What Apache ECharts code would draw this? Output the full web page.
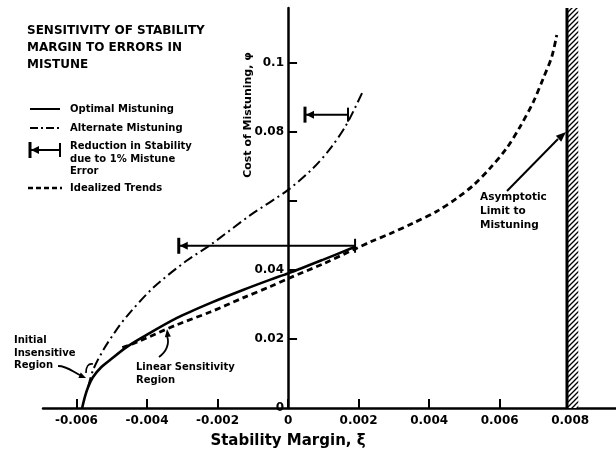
<!DOCTYPE html>
<html><head><meta charset="utf-8">
<script src="https://cdn.jsdelivr.net/npm/echarts@6/dist/echarts.min.js"></script>
<style>html,body{margin:0;padding:0;background:#fff}#c{width:616px;height:451px}</style>
</head><body><div id="c"></div>
<script>
// ---- data ----
const xTicks = [-0.006, -0.004, -0.002, 0, 0.002, 0.004, 0.006, 0.008];
const yTicks = [0.02, 0.04, 0.06, 0.08, 0.1];
const yLabels = [0, 0.02, 0.04, 0.08, 0.1];

const optX = [-0.00584, -0.00576, -0.00567, -0.00553, -0.0053, -0.00505, -0.0046, -0.00411, -0.00315, -0.00221, -0.00128, -0.0005, 0, 0.001, 0.0019];
const optY = [0, 0.0033, 0.0061, 0.009, 0.0118, 0.0139, 0.0175, 0.0206, 0.0261, 0.0304, 0.0342, 0.0372, 0.039, 0.043, 0.0467];

const altX = [-0.00567, -0.00553, -0.00524, -0.00491, -0.00458, -0.00383, -0.0029, -0.00221, -0.00108, 0, 0.0007, 0.0012, 0.00166, 0.0021];
const altY = [0.0061, 0.011, 0.0168, 0.022, 0.0265, 0.0348, 0.0425, 0.0472, 0.0558, 0.0632, 0.0694, 0.0752, 0.0822, 0.0913];

const idealX = [-0.0047, -0.00428, -0.00316, -0.00221, -0.00128, -0.0005, 0, 0.001, 0.0019, 0.00233, 0.00289, 0.00355, 0.00422, 0.00479, 0.00526, 0.00573, 0.0062, 0.00658, 0.00696, 0.00724, 0.00748, 0.00762];
const idealY = [0.0175, 0.0191, 0.0241, 0.0278, 0.0319, 0.0352, 0.0375, 0.0418, 0.0461, 0.0481, 0.0505, 0.0536, 0.057, 0.0608, 0.0646, 0.0695, 0.0753, 0.0815, 0.0888, 0.0956, 0.1018, 0.1081];

// reduction in stability bars: [left, right, level]
const barLeft = [-0.0031, 0.00048];
const barRight = [0.0019, 0.0017];
const barLevel = [0.047, 0.085];

const wallX = [0.00791, 0.00823];

const X_MIN = -0.00695, X_MAX = 0.0093, Y_MIN = 0, Y_MAX = 0.1159;
const FONT = '"DejaVu Sans", "Liberation Sans", sans-serif';

const zip = (a, b) => a.map((v, i) => [v, b[i]]);

// hatch pattern
const pc = document.createElement('canvas');
pc.width = 5; pc.height = 5;
const g = pc.getContext('2d');
g.fillStyle = '#fff'; g.fillRect(0, 0, 5, 5);
g.strokeStyle = '#000'; g.lineWidth = 1.3;
g.beginPath();
g.moveTo(-1, 6); g.lineTo(6, -1);
g.moveTo(-3.5, 3.5); g.lineTo(3.5, -3.5);
g.moveTo(1.5, 8.5); g.lineTo(8.5, 1.5);
g.stroke();

function arrowHead(tipX, tipY, fromX, fromY, len, half) {
  const a = Math.atan2(tipY - fromY, tipX - fromX);
  const bx = tipX - len * Math.cos(a), by = tipY - len * Math.sin(a);
  const px = -Math.sin(a) * half, py = Math.cos(a) * half;
  return { type: 'polygon', shape: { points: [[tipX, tipY], [bx + px, by + py], [bx - px, by - py]] }, style: { fill: '#000' } };
}
function txt(x, y, text, size, extra) {
  return { type: 'text', x: x, y: y, style: Object.assign({ text: text, font: 'bold ' + size + 'px ' + FONT, fill: '#000', verticalAlign: 'middle', align: 'left' }, extra || {}) };
}

const chart = echarts.init(document.getElementById('c'), null, { renderer: 'canvas' });

const option = {
  animation: false,
  backgroundColor: '#fff',
  grid: { left: 43, right: 0, top: 8, bottom: 43, containLabel: false, outerBoundsMode: 'none' },
  xAxis: {
    type: 'value', min: X_MIN, max: X_MAX,
    splitLine: { show: false },
    axisLine: { show: true, onZero: false, lineStyle: { color: '#000', width: 2.5 } },
    axisTick: { show: true, inside: true, length: 9, customValues: xTicks, lineStyle: { color: '#000', width: 2 } },
    axisLabel: {
      customValues: xTicks, margin: 7, color: '#000', fontWeight: 'bold', fontSize: 12, fontFamily: FONT,
      formatter: v => (Math.abs(v) < 1e-12 ? '0' : Number(v).toFixed(3))
    }
  },
  yAxis: {
    type: 'value', min: Y_MIN, max: Y_MAX,
    splitLine: { show: false },
    axisLine: { show: true, onZero: true, lineStyle: { color: '#000', width: 2.5 } },
    axisTick: { show: true, inside: true, length: 9, customValues: yTicks, lineStyle: { color: '#000', width: 2 } },
    axisLabel: {
      customValues: yLabels, margin: -241, color: '#000', fontWeight: 'bold', fontSize: 12, fontFamily: FONT,
      formatter: v => (Math.abs(v) < 1e-12 ? '0' : String(Number(v.toFixed(3))))
    }
  },
  series: [
    {
      name: 'Optimal Mistuning', type: 'line', data: zip(optX, optY), smooth: 0.3, showSymbol: false,
      lineStyle: { color: '#000', width: 2.6 }, z: 3
    },
    {
      name: 'Alternate Mistuning', type: 'line', data: zip(altX, altY), smooth: 0.3, showSymbol: false,
      lineStyle: { color: '#000', width: 2, type: [10, 4, 2, 4] }, z: 3
    },
    {
      name: 'Idealized Trends', type: 'line', data: zip(idealX, idealY), smooth: 0.3, showSymbol: false,
      lineStyle: { color: '#000', width: 2.8, type: [6, 4] }, z: 2
    },
    {
      name: 'Reduction in Stability', type: 'custom', z: 4,
      data: barLeft.map((l, i) => [l, barRight[i], barLevel[i]]),
      renderItem: function (params, api) {
        const p1 = api.coord([api.value(0), api.value(2)]);
        const p2 = api.coord([api.value(1), api.value(2)]);
        const y = p1[1];
        return {
          type: 'group', children: [
            { type: 'line', shape: { x1: p1[0], y1: y, x2: p2[0], y2: y }, style: { stroke: '#000', lineWidth: 2 } },
            { type: 'line', shape: { x1: p1[0], y1: y - 8, x2: p1[0], y2: y + 8 }, style: { stroke: '#000', lineWidth: 3 } },
            { type: 'line', shape: { x1: p2[0], y1: y - 7, x2: p2[0], y2: y + 7 }, style: { stroke: '#000', lineWidth: 2 } },
            { type: 'polygon', shape: { points: [[p1[0] + 1, y], [p1[0] + 9, y - 4], [p1[0] + 9, y + 4]] }, style: { fill: '#000' } }
          ]
        };
      }
    },
    {
      name: 'Asymptotic Limit', type: 'custom', z: 5, clip: false,
      data: [[wallX[0], wallX[1]]],
      renderItem: function (params, api) {
        const a = api.coord([api.value(0), Y_MAX]);
        const b = api.coord([api.value(1), Y_MIN]);
        return {
          type: 'group', children: [
            { type: 'rect', shape: { x: a[0], y: a[1], width: b[0] - a[0], height: b[1] - a[1] }, style: { fill: { image: pc, repeat: 'repeat' } } },
            { type: 'line', shape: { x1: a[0], y1: a[1], x2: a[0], y2: b[1] }, style: { stroke: '#000', lineWidth: 3 } }
          ]
        };
      }
    }
  ],
  graphic: [
    // title
    txt(27, 31, 'SENSITIVITY OF STABILITY', 12),
    txt(27, 48, 'MARGIN TO ERRORS IN', 12),
    txt(27, 65, 'MISTUNE', 12),
    // legend
    { type: 'line', shape: { x1: 30, y1: 109, x2: 60, y2: 109 }, style: { stroke: '#000', lineWidth: 2 } },
    txt(70, 109, 'Optimal Mistuning', 10),
    { type: 'line', shape: { x1: 30, y1: 128, x2: 60, y2: 128 }, style: { stroke: '#000', lineWidth: 2, lineDash: [8, 3, 2, 3] } },
    txt(70, 128, 'Alternate Mistuning', 10),
    { type: 'line', shape: { x1: 30, y1: 150, x2: 60, y2: 150 }, style: { stroke: '#000', lineWidth: 2 } },
    { type: 'line', shape: { x1: 30, y1: 142, x2: 30, y2: 158 }, style: { stroke: '#000', lineWidth: 3 } },
    { type: 'line', shape: { x1: 60, y1: 143, x2: 60, y2: 157 }, style: { stroke: '#000', lineWidth: 2 } },
    { type: 'polygon', shape: { points: [[31, 150], [39, 146], [39, 154]] }, style: { fill: '#000' } },
    txt(70, 146, 'Reduction in Stability', 10),
    txt(70, 159, 'due to 1% Mistune', 10),
    txt(70, 171, 'Error', 10),
    { type: 'line', shape: { x1: 28, y1: 188, x2: 62, y2: 188 }, style: { stroke: '#000', lineWidth: 2.5, lineDash: [5, 3] } },
    txt(70, 188, 'Idealized Trends', 10),
    // axis names
    txt(288, 441, 'Stability Margin, ξ', 15, { align: 'center' }),
    Object.assign(txt(248, 115, 'Cost of Mistuning, φ', 11, { align: 'center' }), { rotation: Math.PI / 2 }),
    // annotations
    txt(14, 340, 'Initial', 10),
    txt(14, 353, 'Insensitive', 10),
    txt(14, 365, 'Region', 10),
    { type: 'bezierCurve', shape: { x1: 58, y1: 366, x2: 82, y2: 376, cpx1: 68, cpy1: 366, cpx2: 74, cpy2: 373 }, style: { stroke: '#000', lineWidth: 1.8, fill: null } },
    arrowHead(86, 378, 79, 375, 7, 3),
    { type: 'bezierCurve', shape: { x1: 86, y1: 373, x2: 93, y2: 364, cpx1: 86, cpy1: 367, cpx2: 88, cpy2: 363 }, style: { stroke: '#000', lineWidth: 1.6, fill: null } },
    txt(136, 367, 'Linear Sensitivity', 10),
    txt(136, 380, 'Region', 10),
    { type: 'bezierCurve', shape: { x1: 159, y1: 357, x2: 167, y2: 336, cpx1: 166, cpy1: 352, cpx2: 170, cpy2: 344 }, style: { stroke: '#000', lineWidth: 1.8, fill: null } },
    arrowHead(167, 329, 168, 338, 8, 3),
    txt(480, 197, 'Asymptotic', 10.5),
    txt(480, 211, 'Limit to', 10.5),
    txt(480, 225, 'Mistuning', 10.5),
    { type: 'line', shape: { x1: 507, y1: 191, x2: 558, y2: 139 }, style: { stroke: '#000', lineWidth: 2 } },
    arrowHead(566, 132, 557, 140, 10, 4)
  ]
};
chart.setOption(option);
</script>
</body></html>
